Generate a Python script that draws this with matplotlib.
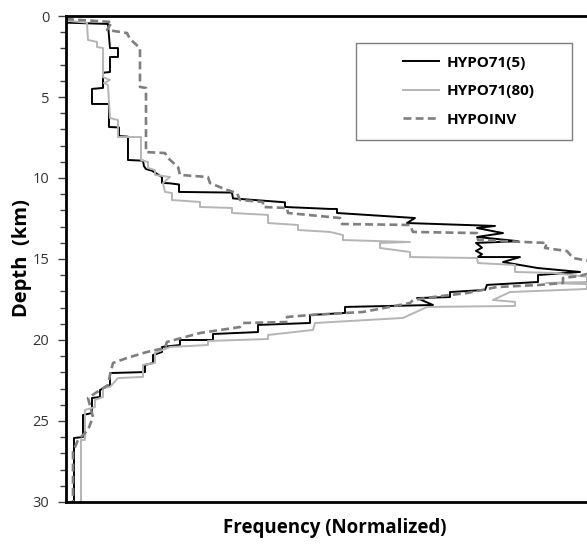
import matplotlib
matplotlib.use("Agg")
import matplotlib.pyplot as plt
from matplotlib.patches import Rectangle

plt.rcParams['font.family'] = ['Open Sans', 'DejaVu Sans']

# normalized frequency (arbitrary units, axis runs 0..521) and depth (km)
h5_freq = [0, 42, 44, 52, 52, 44, 44, 37, 37, 26, 26, 43, 43, 53, 53, 62, 62, 77, 78, 80,
           86, 96, 96, 104, 113, 113, 166, 167, 219, 219, 264, 271, 271, 349, 341, 429, 411,
           437, 411, 452, 410, 416, 410, 416, 412, 454, 437, 472, 514, 472, 472, 421, 419,
           384, 384, 351, 367, 279, 279, 244, 244, 192, 192, 147, 147, 114, 114, 96, 96, 87,
           87, 79, 79, 44, 44, 34, 34, 26, 26, 17, 17, 8, 8]
h5_depth = [0.41, 0.49, 1.98, 1.98, 2.53, 2.53, 3.46, 3.5, 4.44, 4.5, 5.43, 5.43, 6.85, 6.88,
            7.41, 7.45, 8.89, 8.93, 9.27, 9.45, 9.55, 9.94, 10.3, 10.33, 10.4, 10.86, 10.9,
            11.26, 11.5, 11.79, 11.91, 11.91, 12.16, 12.47, 12.78, 12.96, 13.09, 13.4, 13.64,
            13.9, 14.01, 14.3, 14.5, 14.7, 14.88, 14.88, 15.19, 15.56, 15.8, 15.99, 16.42,
            16.6, 16.91, 17.04, 17.35, 17.41, 17.84, 17.96, 18.33, 18.46, 18.95, 19.07, 19.51,
            19.63, 20.0, 20.0, 20.31, 20.43, 20.74, 20.93, 21.42, 21.54, 21.98, 22.04, 22.78,
            23.09, 23.52, 23.58, 24.51, 24.63, 25.99, 26.05, 30.0]

h80_freq = [0, 21, 22, 31, 31, 37, 37, 44, 38, 42, 44, 52, 52, 75, 75, 82, 82, 89, 89, 104,
            97, 99, 106, 106, 134, 134, 166, 166, 202, 202, 232, 232, 264, 277, 277, 344, 314,
            314, 344, 344, 411, 412, 449, 449, 487, 521, 521, 480, 521, 521, 444, 427, 449,
            449, 361, 337, 249, 247, 202, 202, 142, 142, 104, 89, 89, 77, 77, 52, 44, 37, 37,
            29, 29, 19, 19, 15, 15]
h80_depth = [0.29, 0.41, 1.48, 1.6, 1.91, 1.98, 3.77, 3.95, 4.14, 4.26, 6.3, 6.42, 7.47, 7.47,
             8.89, 9.01, 9.38, 9.51, 9.81, 9.94, 10.31, 10.86, 10.93, 11.36, 11.48, 11.79,
             11.85, 12.16, 12.28, 12.78, 12.9, 13.21, 13.33, 13.52, 13.83, 13.95, 14.01, 14.32,
             14.57, 14.88, 14.94, 15.25, 15.37, 15.8, 15.86, 16.1, 16.42, 16.48, 16.55, 16.85,
             17.04, 17.53, 17.65, 17.9, 17.96, 18.64, 18.95, 19.38, 19.69, 19.94, 20.06, 20.31,
             20.43, 20.8, 21.42, 21.54, 22.28, 22.35, 22.9, 22.96, 23.52, 23.7, 24.14, 24.32,
             26.17, 26.17, 30.0]

inv_freq = [0, 46, 41, 61, 64, 74, 74, 80, 80, 99, 102, 112, 114, 142, 144, 161, 171, 174,
            197, 197, 221, 222, 274, 276, 344, 347, 411, 412, 481, 479, 501, 507, 529, 534,
            514, 497, 497, 474, 431, 401, 367, 347, 344, 297, 244, 221, 222, 177, 174, 134,
            101, 99, 81, 61, 47, 44, 42, 34, 22, 27, 22, 12, 7, 7]
inv_depth = [0.19, 0.37, 0.86, 1.05, 1.42, 1.98, 4.38, 4.44, 8.4, 8.46, 8.77, 9.32, 9.81,
             9.94, 10.31, 10.74, 10.93, 11.36, 11.48, 11.79, 11.85, 12.16, 12.47, 12.84, 12.9,
             13.33, 13.4, 13.83, 14.01, 14.32, 14.51, 14.94, 15.19, 15.68, 16.05, 16.17, 16.48,
             16.6, 16.73, 17.1, 17.35, 17.53, 17.72, 18.27, 18.46, 18.58, 18.89, 18.95, 19.2,
             19.57, 20.12, 20.49, 20.74, 21.11, 21.42, 22.16, 22.78, 23.09, 23.58, 24.75, 25.56,
             26.17, 26.91, 30.0]

fig = plt.figure(figsize=(5.87, 5.5), dpi=100)
ax = fig.add_axes([0.1124, 0.0873, 0.8876, 0.8836])

ax.plot(h5_freq, h5_depth, color='black', lw=1.4, label='HYPO71(5)')
ax.plot(h80_freq, h80_depth, color='#b5b5b5', lw=1.4, label='HYPO71(80)')
ax.plot(inv_freq, inv_depth, color='#7f7f7f', lw=1.9, linestyle=(0, (3, 1.6)), label='HYPOINV')

ax.set_xlim(0, 521)
ax.set_ylim(30, 0)
ax.set_xticks([])
ax.set_yticks(range(0, 31, 5))
ax.set_yticks(range(0, 31, 1), minor=True)
ax.tick_params(axis='y', which='major', length=6, width=1, color='#404040', labelsize=10.5,
               labelcolor='#333333', pad=6)
ax.tick_params(axis='y', which='minor', length=4, width=1, color='#404040')

for s in ['left', 'top', 'bottom']:
    ax.spines[s].set_linewidth(2)
    ax.spines[s].set_color('black')
ax.spines['right'].set_visible(False)

fig.text(0.037, 0.53, 'Depth  (km)', rotation=90, ha='center', va='center',
         fontsize=14.5, fontweight='bold')
fig.text(0.571, 0.04, 'Frequency (Normalized)', ha='center', va='center',
         fontsize=13.5, fontweight='bold')

# legend box
fig.patches.append(Rectangle((356 / 587, 1 - 140 / 550), 216 / 587, 97 / 550,
                             transform=fig.transFigure, fill=False, edgecolor='#7f7f7f',
                             lw=1))
leg = ax.legend(loc='upper left', bbox_to_anchor=(395 / 587, 1 - 48 / 550),
                bbox_transform=fig.transFigure, frameon=False,
                handlelength=2.4, handletextpad=0.5, labelspacing=0.95, borderpad=0,
                prop={'weight': 'bold', 'size': 11})

fig.savefig('out.png', dpi=100)
